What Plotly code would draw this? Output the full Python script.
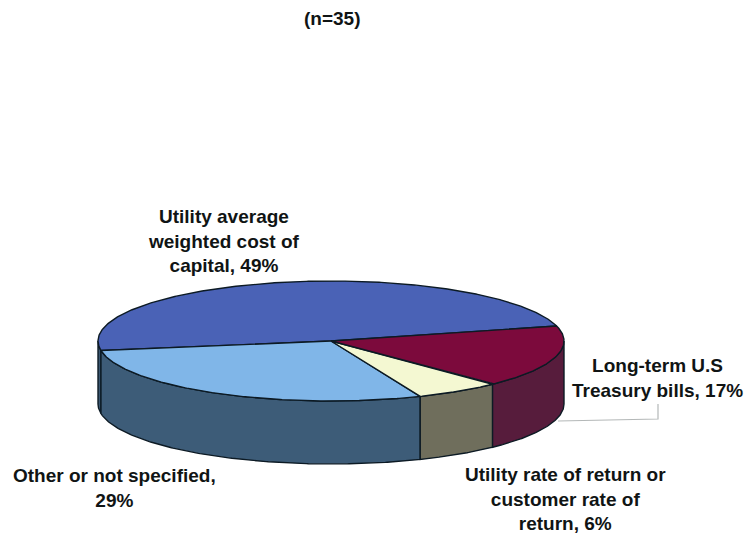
import numpy as np
import plotly.graph_objects as go

categories = ["Utility average weighted cost of capital", "Other or not specified",
              "Utility rate of return or customer rate of return", "Long-term U.S Treasury bills"]
values = [49, 29, 6, 17]
top_colors = ["#4a62b6", "#80b6e8", "#f4f8d2", "#7c0a3c"]
side_colors = ["#3a5670", "#3d5c78", "#6f6e5c", "#571c3c"]
label_lines = [
    ["Utility average", "weighted cost of", "capital, 49%"],
    ["Other or not specified,", "29%"],
    ["Utility rate of return or", "customer rate of", "return, 6%"],
    ["Long-term U.S", "Treasury bills, 17%"],
]
label_xy = [(224, 241), (114, 488), (565, 499), (657, 378)]
subtitle = "(n=35)"

CX, CY, RX, RY, DEPTH = 331, 341, 233, 60, 63
START = 14.5
EDGE = "#0c1a24"
FONT = dict(family="Liberation Sans", size=19, color="#101414")


def rim(a0, a1, dy=0):
    t = np.radians(np.linspace(a0, a1, max(2, int(abs(a1 - a0) * 2) + 1)))
    return CX + RX * np.cos(t), CY - RY * np.sin(t) + dy


fig = go.Figure()
spans = np.array(values) / sum(values) * 360
edges = START + np.concatenate([[0], np.cumsum(spans)])

# walls: the visible part of each slice lies between 180 and 360 degrees
for i, cat in enumerate(categories):
    for shift in (0, 360):
        lo = max(edges[i] + shift - 360, 180)
        hi = min(edges[i + 1] + shift - 360, 360)
        if hi <= lo:
            continue
        x1, y1 = rim(lo, hi)
        x2, y2 = rim(hi, lo, DEPTH)
        fig.add_trace(go.Scatter(
            x=np.r_[x1, x2, x1[0]], y=np.r_[y1, y2, y1[0]], mode="lines", fill="toself",
            fillcolor=side_colors[i], line=dict(color=EDGE, width=1.4), name=cat,
            hoverinfo="name", showlegend=False))

# tops
for i, cat in enumerate(categories):
    x1, y1 = rim(edges[i], edges[i + 1])
    fig.add_trace(go.Scatter(
        x=np.r_[CX, x1, CX], y=np.r_[CY, y1, CY], mode="lines", fill="toself",
        fillcolor=top_colors[i], line=dict(color=EDGE, width=1.4), name=f"{cat}, {values[i]}%",
        hoverinfo="name", showlegend=False))

# leader line of the Treasury label
fig.add_trace(go.Scatter(x=[558, 658, 658], y=[421, 419, 404], mode="lines",
                         line=dict(color="#b4b8b8", width=1.2), hoverinfo="skip", showlegend=False))

for lines, (x, y) in zip(label_lines, label_xy):
    fig.add_annotation(x=x, y=y, text="<br>".join(f"<b>{s}</b>" for s in lines), showarrow=False,
                       align="center", font=FONT)
fig.add_annotation(x=332, y=18, text=f"<b>{subtitle}</b>", showarrow=False, font=FONT)

fig.update_layout(
    width=747, height=533, margin=dict(l=0, r=0, t=0, b=0),
    paper_bgcolor="white", plot_bgcolor="white",
    xaxis=dict(range=[0, 747], visible=False, fixedrange=True),
    yaxis=dict(range=[533, 0], visible=False, fixedrange=True),
)
fig.write_html("out.html", config=dict(displayModeBar=False),
               post_script="document.body.style.margin='0';document.documentElement.style.overflow='hidden';")
